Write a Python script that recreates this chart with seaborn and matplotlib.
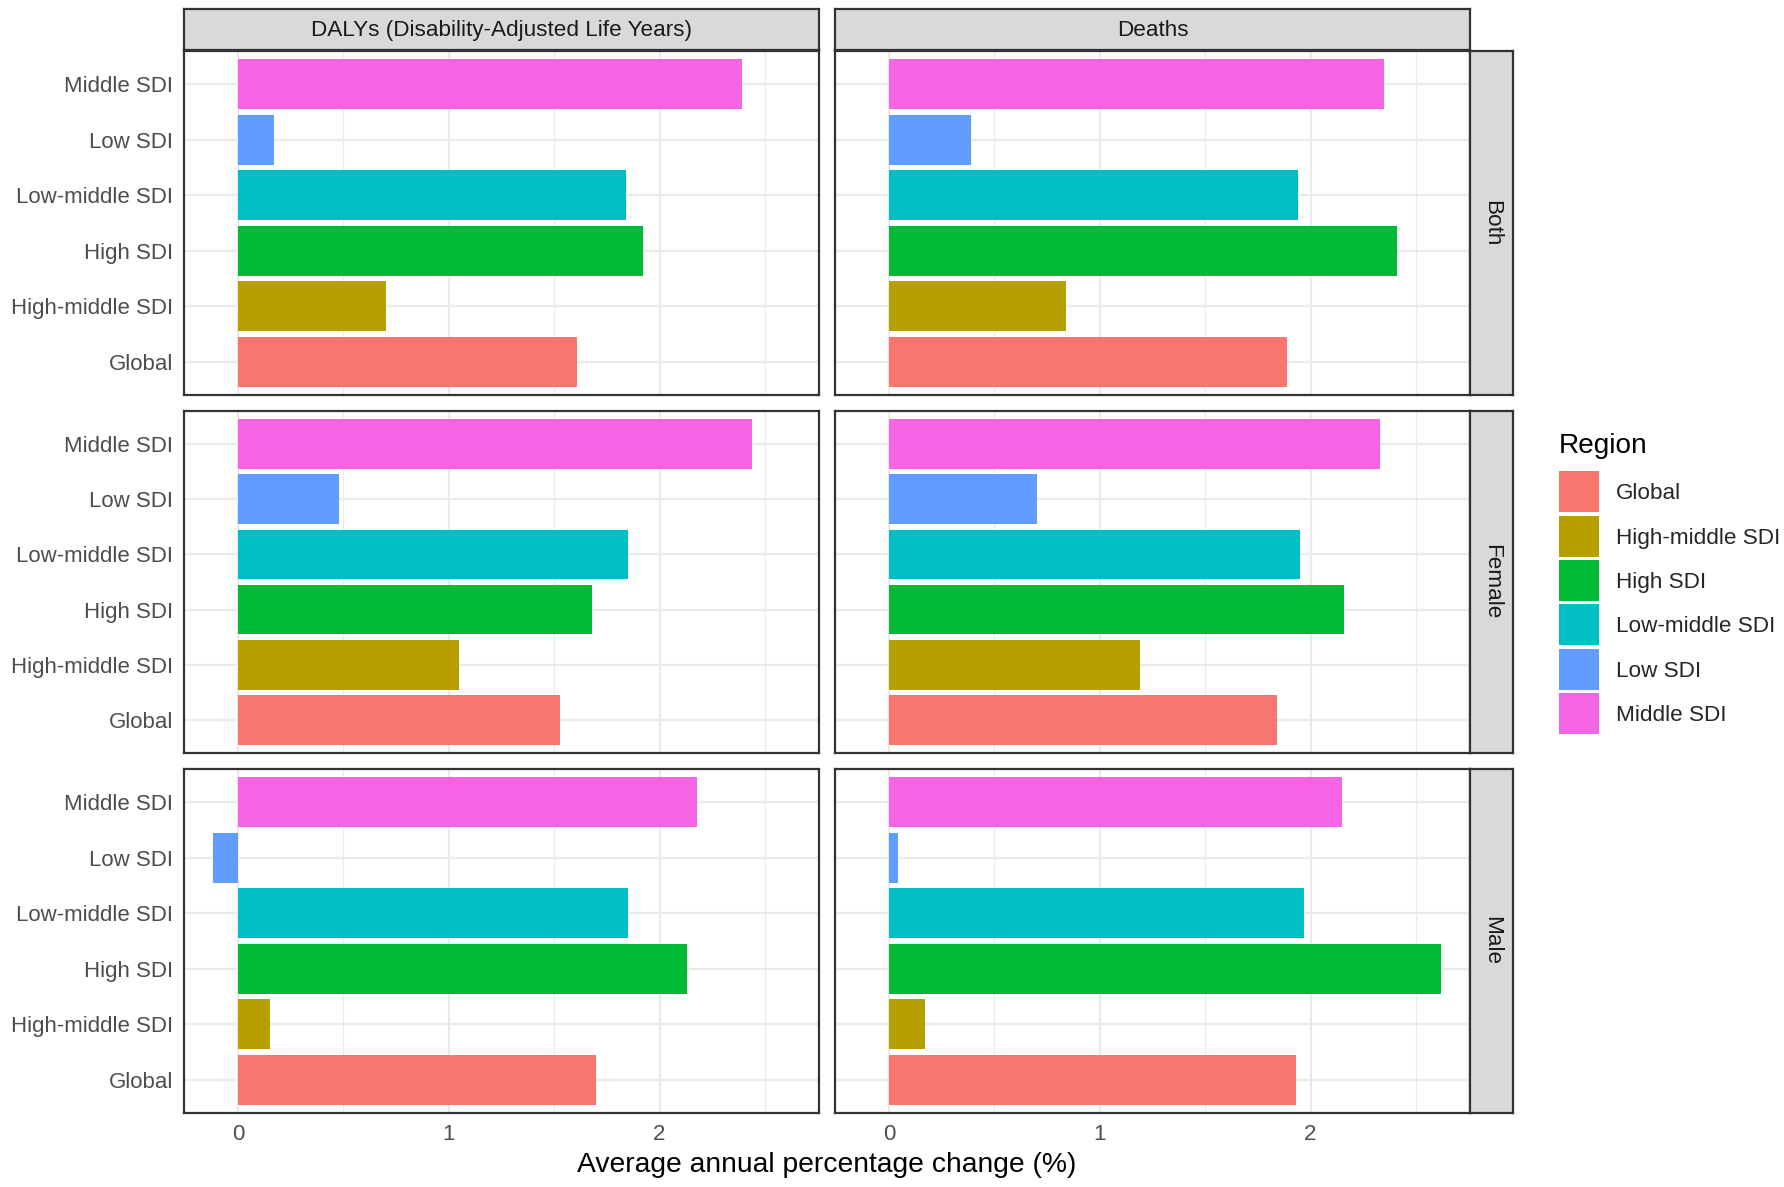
import matplotlib
matplotlib.use("Agg")
import matplotlib.pyplot as plt
from matplotlib.patches import Patch, Rectangle
from matplotlib.legend_handler import HandlerPatch
import seaborn as sns
import pandas as pd

sns.set_style("white")
plt.rcParams['font.family'] = ['Liberation Sans', 'DejaVu Sans']

regions = ["Global", "High-middle SDI", "High SDI", "Low-middle SDI", "Low SDI", "Middle SDI"]
display_order = ["Middle SDI", "Low SDI", "Low-middle SDI", "High SDI", "High-middle SDI", "Global"]
colors = ["#F8766D", "#B79F00", "#00BA38", "#00BFC4", "#619CFF", "#F564E3"]
measures = ["DALYs (Disability-Adjusted Life Years)", "Deaths"]
sexes = ["Both", "Female", "Male"]

dalys_both = [1.61, 0.70, 1.92, 1.84, 0.17, 2.39]
deaths_both = [1.89, 0.84, 2.41, 1.94, 0.39, 2.35]
dalys_female = [1.53, 1.05, 1.68, 1.85, 0.48, 2.44]
deaths_female = [1.84, 1.19, 2.16, 1.95, 0.70, 2.33]
dalys_male = [1.70, 0.15, 2.13, 1.85, -0.12, 2.18]
deaths_male = [1.93, 0.17, 2.62, 1.97, 0.04, 2.15]

x_ticks = [0, 1, 2]
x_label = "Average annual percentage change (%)"
legend_title = "Region"

values = {
    ("Both", measures[0]): dalys_both,
    ("Both", measures[1]): deaths_both,
    ("Female", measures[0]): dalys_female,
    ("Female", measures[1]): deaths_female,
    ("Male", measures[0]): dalys_male,
    ("Male", measures[1]): deaths_male,
}
rows = []
for (sex, meas), vals in values.items():
    for r, v in zip(regions, vals):
        rows.append({"Sex": sex, "Measure": meas, "Region": r, "AAPC": v})
df = pd.DataFrame(rows)
palette = dict(zip(regions, colors))

W, H = 1784, 1187
DPI = 200
fig = plt.figure(figsize=(W / DPI, H / DPI), dpi=DPI)

def fx(px):
    return px / W

def fy(py):
    return 1 - py / H

col_x = [(184, 819), (835, 1470)]
row_y = [(51, 395), (411, 753), (769, 1113)]
strip_top = (9, 50)
strip_right = (1470, 1513)

dark = "#333333"
lw_border = 0.8
tick_fs = 8.0
strip_fs = 8.1
all_vals = df["AAPC"]
rng = all_vals.max() - min(all_vals.min(), 0)
xlim = (min(all_vals.min(), 0) - 0.05 * rng, all_vals.max() + 0.05 * rng)

for i, sex in enumerate(sexes):
    y0, y1 = row_y[i]
    for j, meas in enumerate(measures):
        x0, x1 = col_x[j]
        ax = fig.add_axes([fx(x0), fy(y1), fx(x1) - fx(x0), fy(y0) - fy(y1)])
        sub = df[(df["Sex"] == sex) & (df["Measure"] == meas)]
        ax.set_axisbelow(True)
        sns.barplot(data=sub, x="AAPC", y="Region", hue="Region", order=display_order,
                    hue_order=regions, palette=palette, width=0.9, saturation=1,
                    errorbar=None, legend=False, ax=ax, edgecolor="none", linewidth=0)
        ax.set_xlim(*xlim)
        ax.set_ylim(5.6, -0.6)
        ax.set_xticks(x_ticks)
        ax.set_xticks([0.5, 1.5, 2.5], minor=True)
        ax.grid(True, which="major", color="#EBEBEB", linewidth=0.8)
        ax.grid(True, which="minor", axis="x", color="#EBEBEB", linewidth=0.4)
        ax.set_xlabel("")
        ax.set_ylabel("")
        for sp in ax.spines.values():
            sp.set_color(dark)
            sp.set_linewidth(lw_border)
            sp.set_visible(True)
        ax.tick_params(axis="both", which="major", length=2.5, width=0.8, color=dark,
                       labelsize=tick_fs, labelcolor="#4D4D4D", pad=1.5)
        ax.tick_params(axis="x", which="minor", length=0)
        if j != 0:
            ax.tick_params(axis="y", labelleft=False)
        if i != len(sexes) - 1:
            ax.tick_params(axis="x", labelbottom=False, length=0)
        if i == 0:
            sax = fig.add_axes([fx(x0), fy(strip_top[1]), fx(x1) - fx(x0), fy(strip_top[0]) - fy(strip_top[1])])
            sax.set_facecolor("#D9D9D9")
            sax.set_xticks([]); sax.set_yticks([])
            for sp in sax.spines.values():
                sp.set_color(dark); sp.set_linewidth(lw_border)
            sax.text(0.5, 0.48, meas, ha="center", va="center", fontsize=strip_fs,
                     color="#1A1A1A", transform=sax.transAxes)
    rax = fig.add_axes([fx(strip_right[0]), fy(y1), fx(strip_right[1]) - fx(strip_right[0]), fy(y0) - fy(y1)])
    rax.set_facecolor("#D9D9D9")
    rax.set_xticks([]); rax.set_yticks([])
    for sp in rax.spines.values():
        sp.set_color(dark); sp.set_linewidth(lw_border)
    rax.text(0.5, 0.5, sex, ha="center", va="center", fontsize=strip_fs, rotation=-90,
             color="#1A1A1A", transform=rax.transAxes)

fig.text(fx((184 + 1470) / 2), fy(1165), x_label, ha="center", va="center", fontsize=10.2, color="black")

# legend
key_w_pt = 40 * 72 / DPI
key_h_pt = 41 * 72 / DPI

def key_patch(legend, orig_handle, xdescent, ydescent, width, height, fontsize):
    cy = -ydescent + height / 2
    return Rectangle((-xdescent, cy - key_h_pt / 2), key_w_pt, key_h_pt)

leg_fs = 8.1
hh = 1.4
handles = [Patch(facecolor=c, edgecolor="none", label=r) for r, c in zip(regions, colors)]
fig.text(fx(1559), fy(446), legend_title, ha="left", va="center", fontsize=10.1, color="black")
leg = fig.legend(handles=handles, loc="upper left",
                 bbox_to_anchor=(fx(1559), fy(479)), frameon=False, fontsize=leg_fs,
                 handlelength=key_w_pt / leg_fs, handleheight=hh,
                 handletextpad=0.76, labelspacing=0.815,
                 borderaxespad=0, borderpad=0,
                 handler_map={Patch: HandlerPatch(patch_func=key_patch)})

fig.savefig("out.png", dpi=DPI)
